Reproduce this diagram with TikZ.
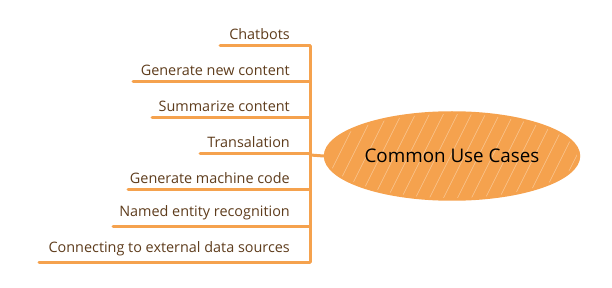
\documentclass[tikz,border=0pt]{standalone}
\usepackage{fontspec}
\setmainfont{Open Sans}
\usetikzlibrary{shapes.geometric}
\definecolor{usecaseorange}{HTML}{F5A24E}
\definecolor{usecasebrown}{HTML}{5E3C1C}
\begin{document}
\begin{tikzpicture}[x=1pt, y=-1pt,
    branch/.style={draw=usecaseorange, line width=3pt, line cap=round},
    leaf/.style={anchor=south east, inner sep=1pt, text=usecasebrown, font=\fontsize{14.4}{17}\selectfont},
    hub/.style={ellipse, fill=usecaseorange, draw=usecaseorange, line width=1.5pt, minimum width=255pt, minimum height=88pt},
    hatch/.style={white, line width=0.6pt, opacity=0.4}]
    \useasboundingbox (0,0) rectangle (612,288);
    \node[hub](hub)at(452,156){};
    % sketchy white hatching inside the hub
    \begin{scope}
        \clip (452,156) ellipse [x radius=125pt, y radius=42pt];
        \foreach \i in {0,...,20}{
            \draw[hatch] (300+\i*14,205) -- (350+\i*14,105);
        }
    \end{scope}
    \node[font=\fontsize{18.8}{22}\selectfont](hubtext)at(hub.center){Common Use Cases};
    \coordinate(top)at(310,46);
    \coordinate(bot)at(310,262);
    \coordinate(joint)at(310,155);
    \draw[branch](top)--(bot);
    \draw[branch](joint)--(hub.west);
    % leaves: name / left end / height
    \foreach \name/\lx/\ly/\txt in {chat/220/46/Chatbots, gen/133/82/Generate new content, summ/152/118/Summarize content, trans/200/154/Transalation, code/128/190/Generate machine code, ner/113/226/Named entity recognition, data/39/262/Connecting to external data sources}{
        \coordinate(\name-l)at(\lx,\ly);
        \coordinate(\name-r)at(310,\ly);
        \node[leaf](\name)at(291,\ly-5){\txt};
        \draw[branch](\name-l)--(\name-r);
    }
\end{tikzpicture}
\end{document}
